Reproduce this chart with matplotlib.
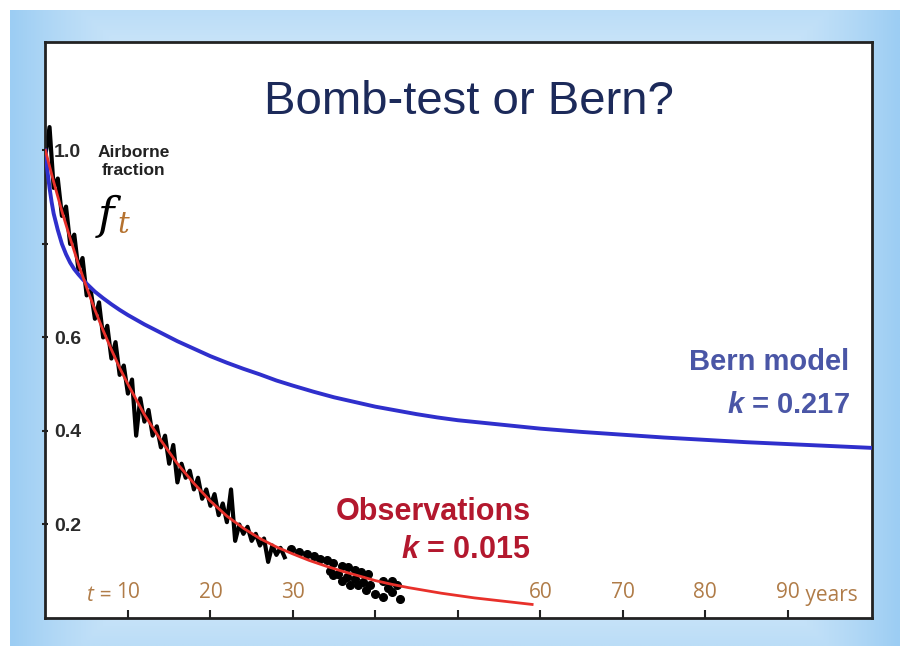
import numpy as np
import matplotlib.pyplot as plt
from matplotlib.colors import to_rgb

# Bern model curve
bern_t = [0, 0.25, 0.5, 0.75, 1, 1.5, 2, 2.5, 3, 3.5, 4, 5, 6, 7, 8, 9, 10, 11,
          12, 13, 14, 15, 16, 17, 18, 19, 20, 22, 24, 26, 28, 30, 32.5, 35,
          37.5, 40, 42.5, 45, 47.5, 50, 55, 60, 65, 70, 75, 80, 85, 90, 95, 100]
bern_f = [1.0, 0.955, 0.92, 0.89, 0.865, 0.83, 0.80, 0.778, 0.76, 0.746, 0.735,
          0.715, 0.698, 0.684, 0.671, 0.659, 0.648, 0.638, 0.628, 0.619, 0.61,
          0.601, 0.592, 0.584, 0.576, 0.568, 0.56, 0.546, 0.533, 0.521, 0.508,
          0.497, 0.484, 0.472, 0.462, 0.452, 0.444, 0.436, 0.429, 0.423, 0.414,
          0.405, 0.398, 0.392, 0.386, 0.381, 0.376, 0.372, 0.368, 0.364]

# exponential fit to observations
fit_t = [0, 1, 2, 3, 4, 5, 6, 7, 8, 9, 10, 12, 14, 16, 18, 20, 22, 24, 26, 28,
         30, 32, 34, 36, 38, 40, 42, 44, 46, 48, 50, 52, 54, 56, 58, 59]
fit_f = [1.0, 0.933, 0.87, 0.812, 0.757, 0.707, 0.659, 0.615, 0.574, 0.535, 0.50,
         0.435, 0.38, 0.33, 0.288, 0.25, 0.218, 0.192, 0.17, 0.152, 0.137, 0.123,
         0.111, 0.10, 0.09, 0.08, 0.072, 0.065, 0.059, 0.053, 0.048, 0.043,
         0.039, 0.035, 0.031, 0.029]

# bomb-test 14C observations, half-year samples from t = 0
obs_f = [0.99, 1.05, 0.92, 0.94, 0.86, 0.88, 0.80, 0.82, 0.745, 0.77, 0.69, 0.70,
         0.64, 0.675, 0.60, 0.625, 0.555, 0.59, 0.52, 0.54, 0.48, 0.51, 0.39,
         0.47, 0.42, 0.445, 0.39, 0.41, 0.365, 0.39, 0.33, 0.37, 0.29, 0.33,
         0.30, 0.315, 0.275, 0.30, 0.255, 0.275, 0.24, 0.265, 0.22, 0.245,
         0.205, 0.275, 0.165, 0.20, 0.18, 0.195, 0.165, 0.18, 0.155, 0.17,
         0.12, 0.155, 0.135, 0.15, 0.13]
obs_t = np.arange(len(obs_f)) * 0.5

# later observations shown as dots
dots_t = [29.8, 30.8, 31.7, 32.5, 33.3, 34.1, 34.9, 35.9, 36.7, 37.5, 38.3, 39.1,
          40.9, 42.0, 34.5, 35.5, 36.5, 37.5, 38.5, 39.3, 34.9, 35.9, 36.9, 37.9,
          38.9, 39.9, 40.9, 42.0, 43.0, 41.5, 42.6]
dots_f = [0.148, 0.141, 0.137, 0.132, 0.127, 0.123, 0.117, 0.112, 0.109, 0.103,
          0.098, 0.095, 0.080, 0.079, 0.101, 0.094, 0.087, 0.084, 0.077, 0.070,
          0.091, 0.080, 0.070, 0.070, 0.059, 0.052, 0.045, 0.055, 0.040, 0.065,
          0.070]

xticks = [10, 20, 30, 40, 50, 60, 70, 80, 90]
xlabels = ['10', '20', '30', '', '', '60', '70', '80', '90']
yticks = [0.2, 0.4, 0.6, 0.8, 1.0]
ylabels = ['0.2', '0.4', '0.6', '', '1.0']

plt.rcParams['font.family'] = ['Liberation Sans', 'DejaVu Sans']
plt.rcParams['mathtext.fontset'] = 'custom'
plt.rcParams['mathtext.it'] = 'Liberation Sans:italic:bold'

fig = plt.figure(figsize=(9, 6.46), dpi=100, facecolor='white')

# light blue slide frame
bg = fig.add_axes([10 / 900, 0, 890 / 900, 636 / 646], zorder=0)
yy, xx = np.mgrid[0:1:200j, 0:1:300j]
u = np.abs(xx - 0.5) * 2
v = np.abs(yy - 0.5) * 2
w = np.clip(np.maximum(u ** 3, 0.6 * v ** 3), 0, 1)[..., None]
light = np.array(to_rgb('#eaf5fd'))
blue = np.array(to_rgb('#9ccdf3'))
bg.imshow(light * (1 - w) + blue * w, aspect='auto', extent=(0, 1, 0, 1))
bg.axis('off')

ax = fig.add_axes([45 / 900, 28 / 646, 827 / 900, 576 / 646], zorder=1)
ax.set_facecolor('white')

ax.plot(bern_t, bern_f, color='#2f2fcc', lw=2.8, zorder=3)
ax.plot(obs_t, obs_f, color='black', lw=3, zorder=2)
ax.plot(dots_t, dots_f, 'o', color='black', ms=5.5, zorder=2)
ax.plot(fit_t, fit_f, color='#e8302a', lw=2, zorder=4)

ax.set_xlim(-0.05, 100.2)
ax.set_ylim(0, 1.232)

for s in ax.spines.values():
    s.set_color('#222222')
    s.set_linewidth(2)

ax.set_xticks(xticks)
ax.set_xticklabels(xlabels, fontfamily='Open Sans', fontsize=15, color='#b07c48')
ax.tick_params(axis='x', direction='in', length=6, width=1.5, pad=-26, colors='#222222')
for lab in ax.get_xticklabels():
    lab.set_color('#b07c48')

ax.set_yticks(yticks)
ax.set_yticklabels(ylabels, fontsize=14, fontweight='bold', color='#2a2a2a')
ax.tick_params(axis='y', direction='inout', length=5, width=1.5, pad=-9, colors='#222222')
for lab in ax.get_yticklabels():
    lab.set_ha('left')
    lab.set_color('#2a2a2a')

ax.annotate('t =', xy=(10, 0), xytext=(-12, 16.5), textcoords='offset points',
            ha='right', va='center', fontsize=15, color='#b07c48',
            fontfamily='Open Sans', fontstyle='italic')
ax.annotate(' years', xy=(90, 0), xytext=(9, 16.5), textcoords='offset points',
            ha='left', va='center', fontsize=15, color='#b07c48',
            fontfamily='Open Sans')

ax.text(0.513, 0.895, 'Bomb-test or Bern?', transform=ax.transAxes,
        ha='center', va='center', fontsize=34, color='#1c2a5a')

ax.text(0.107, 0.793, 'Airborne\nfraction', transform=ax.transAxes,
        ha='center', va='center', fontsize=12.5, fontweight='bold',
        color='#222222', linespacing=1.25)
ax.text(0.074, 0.698, 'f', transform=ax.transAxes, ha='center', va='center',
        fontsize=32, fontstyle='italic', fontfamily='DejaVu Serif', color='black')
ax.text(0.095, 0.683, 't', transform=ax.transAxes, ha='center', va='center',
        fontsize=21, fontstyle='italic', fontfamily='DejaVu Serif', color='#b5722f')

ax.text(0.973, 0.444, 'Bern model', transform=ax.transAxes, ha='right',
        va='center', fontsize=21, fontweight='bold', color='#4a56a6')
ax.text(0.973, 0.370, r'$k$ = 0.217', transform=ax.transAxes,
        ha='right', va='center', fontsize=21, fontweight='bold', color='#4a56a6')

ax.text(0.587, 0.184, 'Observations', transform=ax.transAxes, ha='right',
        va='center', fontsize=22, fontweight='bold', color='#b3182e')
ax.text(0.587, 0.118, r'$k$ = 0.015', transform=ax.transAxes,
        ha='right', va='center', fontsize=22, fontweight='bold', color='#b3182e')

fig.savefig('out.png', dpi=100, facecolor='white')
